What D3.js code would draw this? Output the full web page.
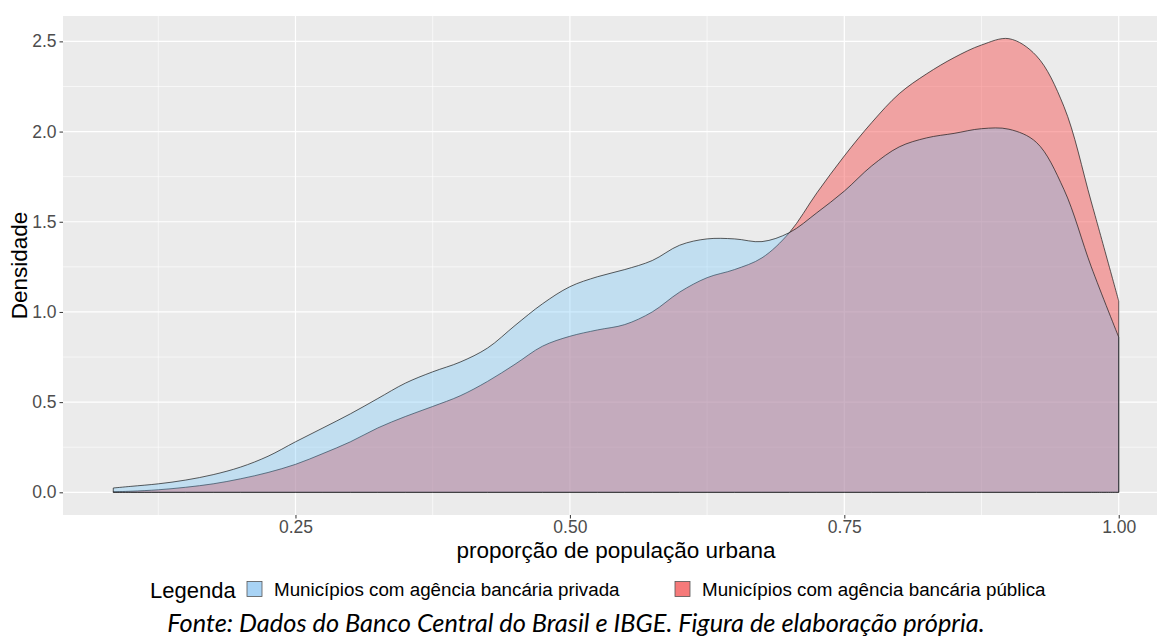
<!DOCTYPE html>
<html>
<head>
<meta charset="utf-8">
<script src="https://cdn.jsdelivr.net/npm/d3@7"></script>
<style>
  body { margin: 0; background: #fff; }
  svg { display: block; }
</style>
</head>
<body>
<svg id="chart"></svg>
<script>
//proporcao de populacao urbana (eixo x)
var urbano = [0.084, 0.10, 0.125, 0.15, 0.175, 0.20, 0.225, 0.25, 0.275, 0.30,
  0.325, 0.35, 0.375, 0.40, 0.425, 0.45, 0.475, 0.50, 0.525, 0.55,
  0.575, 0.60, 0.625, 0.65, 0.675, 0.70, 0.725, 0.75, 0.775, 0.80,
  0.825, 0.85, 0.875, 0.90, 0.925, 0.95, 0.975, 1.00];

//densidade - municipios com agencia privada
var densPrivada = [0.024, 0.033, 0.047, 0.068, 0.098, 0.14, 0.20, 0.28, 0.357, 0.435,
  0.52, 0.605, 0.668, 0.722, 0.80, 0.925, 1.045, 1.14, 1.195, 1.235,
  1.285, 1.37, 1.405, 1.405, 1.39, 1.44, 1.55, 1.67, 1.81, 1.915,
  1.965, 1.99, 2.016, 2.013, 1.94, 1.68, 1.25, 0.86];

//densidade - municipios com agencia publica
var densPublica = [0.003, 0.006, 0.014, 0.028, 0.047, 0.075, 0.11, 0.155, 0.215, 0.28,
  0.357, 0.42, 0.476, 0.535, 0.615, 0.71, 0.81, 0.865, 0.90, 0.93,
  1.00, 1.11, 1.19, 1.235, 1.30, 1.44, 1.66, 1.865, 2.05, 2.21,
  2.32, 2.41, 2.48, 2.515, 2.42, 2.14, 1.61, 1.06];

var xTicks = [0.25, 0.50, 0.75, 1.00];
var xMinor = [0.125, 0.375, 0.625, 0.875, 1.125];
var yTicks = [0.0, 0.5, 1.0, 1.5, 2.0, 2.5];
var yMinor = [0.25, 0.75, 1.25, 1.75, 2.25];

var legendaTitulo = "Legenda";
var legendaItens = ["Municípios com agência bancária privada", "Municípios com agência bancária pública"];
var eixoX = "proporção de população urbana";
var eixoY = "Densidade";
var fonte = "Fonte: Dados do Banco Central do Brasil e IBGE. Figura de elaboração própria.";

///some constants
var W = 1157, H = 639;
var panel = { left: 63, top: 16, right: 1169, bottom: 515 };
var sans = "'Liberation Sans', Arial, sans-serif";

var svg = d3.select("#chart")
  .attr("width", W)
  .attr("height", H)
  .style("font-family", sans);

svg.append("rect").attr("width", W).attr("height", H).attr("fill", "#fff");

//scales with ggplot-like 5% expansion
var xMin = urbano[0], xMax = urbano[urbano.length - 1];
var xPad = (xMax - xMin) * 0.05;
var x = d3.scaleLinear()
  .domain([xMin - xPad, xMax + xPad])
  .range([panel.left, panel.right]);

var yMax = d3.max(densPublica.concat(densPrivada));
var y = d3.scaleLinear()
  .domain([-yMax * 0.05, yMax * 1.05])
  .range([panel.bottom, panel.top]);

//panel background + grid
svg.append("rect")
  .attr("x", panel.left).attr("y", panel.top)
  .attr("width", panel.right - panel.left)
  .attr("height", panel.bottom - panel.top)
  .attr("fill", "#ebebeb");

var grid = svg.append("g");
grid.selectAll("line.ymin").data(yMinor).enter().append("line")
  .attr("x1", panel.left).attr("x2", panel.right)
  .attr("y1", function (d) { return y(d); }).attr("y2", function (d) { return y(d); })
  .attr("stroke", "#fff").attr("stroke-width", 0.6);
grid.selectAll("line.xmin").data(xMinor).enter().append("line")
  .attr("y1", panel.top).attr("y2", panel.bottom)
  .attr("x1", function (d) { return x(d); }).attr("x2", function (d) { return x(d); })
  .attr("stroke", "#fff").attr("stroke-width", 0.6);
grid.selectAll("line.ymaj").data(yTicks).enter().append("line")
  .attr("x1", panel.left).attr("x2", panel.right)
  .attr("y1", function (d) { return y(d); }).attr("y2", function (d) { return y(d); })
  .attr("stroke", "#fff").attr("stroke-width", 1.2);
grid.selectAll("line.xmaj").data(xTicks).enter().append("line")
  .attr("y1", panel.top).attr("y2", panel.bottom)
  .attr("x1", function (d) { return x(d); }).attr("x2", function (d) { return x(d); })
  .attr("stroke", "#fff").attr("stroke-width", 1.2);

//density areas: publica first, privada drawn on top
var area = d3.area()
  .curve(d3.curveCatmullRom.alpha(0.5))
  .x(function (d, i) { return x(urbano[i]); })
  .y0(y(0))
  .y1(function (d) { return y(d); });

var series = [
  { valores: densPublica, fill: "#f55a5a", opacity: 0.5 },
  { valores: densPrivada, fill: "#5fc0fc", opacity: 0.3 }
];

svg.append("g").selectAll("path")
  .data(series)
  .enter().append("path")
  .attr("d", function (s) { return area(s.valores) + "Z"; })
  .attr("fill", function (s) { return s.fill; })
  .attr("fill-opacity", function (s) { return s.opacity; })
  .attr("stroke", "#1a1a1a")
  .attr("stroke-width", 0.7);

//axes
var yAxis = d3.axisLeft(y)
  .tickValues(yTicks)
  .tickFormat(d3.format(".1f"))
  .tickSize(3.5)
  .tickPadding(3);
var gy = svg.append("g")
  .attr("transform", "translate(" + panel.left + ",0)")
  .call(yAxis);

var xAxis = d3.axisBottom(x)
  .tickValues(xTicks)
  .tickFormat(d3.format(".2f"))
  .tickSize(3.5)
  .tickPadding(2);
var gx = svg.append("g")
  .attr("transform", "translate(0," + panel.bottom + ")")
  .call(xAxis);

[gx, gy].forEach(function (g) {
  g.select(".domain").remove();
  g.selectAll(".tick line").attr("stroke", "#333").attr("stroke-width", 1);
  g.selectAll(".tick text")
    .attr("fill", "#4d4d4d")
    .style("font-size", "17.5px")
    .style("font-family", sans);
});

//axis titles
svg.append("text")
  .attr("x", (panel.left + panel.right) / 2)
  .attr("y", 558)
  .attr("text-anchor", "middle")
  .style("font-size", "22.5px")
  .attr("fill", "#000")
  .text(eixoX);

svg.append("text")
  .attr("transform", "translate(27," + ((panel.top + panel.bottom) / 2) + ") rotate(-90)")
  .attr("text-anchor", "middle")
  .style("font-size", "22.5px")
  .attr("fill", "#000")
  .text(eixoY);

//legend
var leg = svg.append("g");
leg.append("text")
  .attr("x", 150).attr("y", 598)
  .style("font-size", "22px")
  .text(legendaTitulo);

var keyX = [247, 675];
var keyFill = ["#a8d3f5", "#f67a7a"];
legendaItens.forEach(function (t, i) {
  leg.append("rect")
    .attr("x", keyX[i]).attr("y", 581.5)
    .attr("width", 15).attr("height", 15)
    .attr("fill", keyFill[i])
    .attr("stroke", "#555").attr("stroke-width", 0.8);
  leg.append("text")
    .attr("x", keyX[i] + 27).attr("y", 596)
    .style("font-size", "18.8px")
    .text(t);
});

//fonte (caption)
var cap = svg.append("text")
  .attr("x", 576).attr("y", 632)
  .attr("text-anchor", "middle")
  .style("font-family", "Lato, 'Open Sans', sans-serif")
  .style("font-style", "italic")
  .style("font-size", "21px")
  .attr("fill", "#000")
  .text(fonte);
var capW = cap.node().getComputedTextLength();
cap.style("font-size", (21 * 818 / capW) + "px");
</script>
</body>
</html>
